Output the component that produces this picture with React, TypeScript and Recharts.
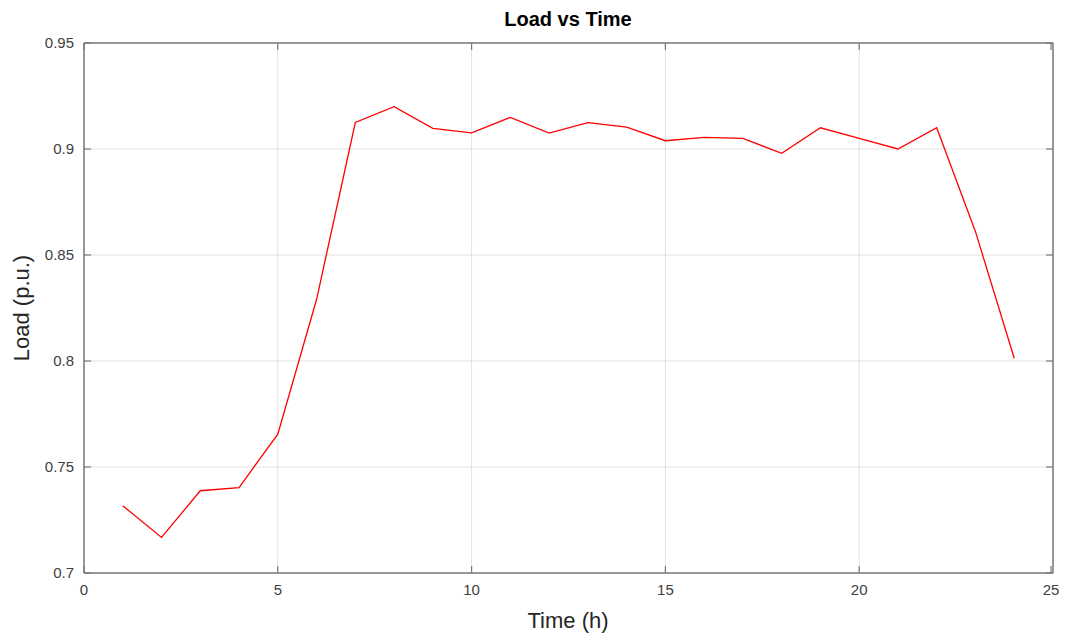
import React from "react";
import { LineChart, Line, XAxis, YAxis, CartesianGrid } from "recharts";

const hours = [1, 2, 3, 4, 5, 6, 7, 8, 9, 10, 11, 12, 13, 14, 15, 16, 17, 18, 19, 20, 21, 22, 23, 24];
const load = [0.7317, 0.7168, 0.7388, 0.7403, 0.7655, 0.829, 0.9125, 0.92, 0.9097, 0.9076, 0.9149, 0.9075, 0.9124, 0.9103, 0.9039, 0.9055, 0.905, 0.898, 0.910, 0.905, 0.900, 0.910, 0.861, 0.8013];
const xTicks = [0, 5, 10, 15, 20, 25];
const yTicks = [0.7, 0.75, 0.8, 0.85, 0.9, 0.95];

const data = hours.map((h, i) => ({ t: h, load: load[i] }));

const AXIS = "#7a7a7a";
const TXT = "#404040";
const FONT = "'Liberation Sans', Arial, sans-serif";
const TICK = 7;
const fmtY = (v: number) => String(Number(v.toFixed(2)));

const BottomTick = (p: any) => (
  <g>
    <line x1={p.x} x2={p.x} y1={p.y} y2={p.y - TICK} stroke={AXIS} strokeWidth={1.2} />
    <text x={p.x} y={p.y + 22} textAnchor="middle" fill={TXT} fontSize={15} fontFamily={FONT}>
      {p.payload.value}
    </text>
  </g>
);
const TopTick = (p: any) => (
  <line x1={p.x} x2={p.x} y1={p.y} y2={p.y + TICK} stroke={AXIS} strokeWidth={1.2} />
);
const LeftTick = (p: any) => (
  <g>
    <line x1={p.x} x2={p.x + TICK} y1={p.y} y2={p.y} stroke={AXIS} strokeWidth={1.2} />
    <text x={p.x - 10} y={p.y + 5} textAnchor="end" fill={TXT} fontSize={15} fontFamily={FONT}>
      {fmtY(p.payload.value)}
    </text>
  </g>
);
const RightTick = (p: any) => (
  <line x1={p.x} x2={p.x - TICK} y1={p.y} y2={p.y} stroke={AXIS} strokeWidth={1.2} />
);

export default function App() {
  return (
    <div style={{ position: "relative", width: 1051, height: 628, fontFamily: FONT }}>
      <div
        style={{
          position: "absolute",
          left: 0,
          width: 1120,
          top: 0,
          textAlign: "center",
          fontSize: 20,
          fontWeight: "bold",
          color: "#000",
        }}
      >
        Load vs Time
      </div>
      <div
        style={{
          position: "absolute",
          left: 560,
          top: 600,
          transform: "translateX(-50%)",
          fontSize: 22,
          color: "#262626",
          whiteSpace: "nowrap",
        }}
      >
        Time (h)
      </div>
      <div
        style={{
          position: "absolute",
          left: 14,
          top: 300,
          transform: "translate(-50%, -50%) rotate(-90deg)",
          fontSize: 22,
          color: "#262626",
          whiteSpace: "nowrap",
        }}
      >
        Load (p.u.)
      </div>
      <LineChart
        width={1051}
        height={620}
        data={data}
        margin={{ top: 34, right: 5, bottom: 0, left: 0 }}
      >
        <CartesianGrid stroke="#e3e3e3" strokeWidth={1} />
        <XAxis
          dataKey="t"
          type="number"
          domain={[0, 25]}
          ticks={xTicks}
          height={55}
          stroke={AXIS}
          strokeWidth={1.5}
          tickSize={0}
          tickMargin={0}
          tickLine={false}
          tick={BottomTick}
        />
        <XAxis
          xAxisId="top"
          orientation="top"
          dataKey="t"
          type="number"
          domain={[0, 25]}
          ticks={xTicks}
          height={1}
          stroke={AXIS}
          strokeWidth={1.5}
          tickSize={0}
          tickMargin={0}
          tickLine={false}
          tick={TopTick}
        />
        <YAxis
          type="number"
          domain={[0.7, 0.95]}
          ticks={yTicks}
          width={76}
          stroke={AXIS}
          strokeWidth={1.5}
          tickSize={0}
          tickMargin={0}
          tickLine={false}
          tick={LeftTick}
        />
        <YAxis
          yAxisId="right"
          orientation="right"
          type="number"
          domain={[0.7, 0.95]}
          ticks={yTicks}
          width={1}
          stroke={AXIS}
          strokeWidth={1.5}
          tickSize={0}
          tickMargin={0}
          tickLine={false}
          tick={RightTick}
        />
        <Line
          xAxisId="top"
          yAxisId="right"
          dataKey="load"
          stroke="none"
          dot={false}
          activeDot={false}
          isAnimationActive={false}
        />
        <Line
          dataKey="load"
          stroke="#ff0000"
          strokeWidth={1.3}
          dot={false}
          activeDot={false}
          isAnimationActive={false}
        />
      </LineChart>
    </div>
  );
}
